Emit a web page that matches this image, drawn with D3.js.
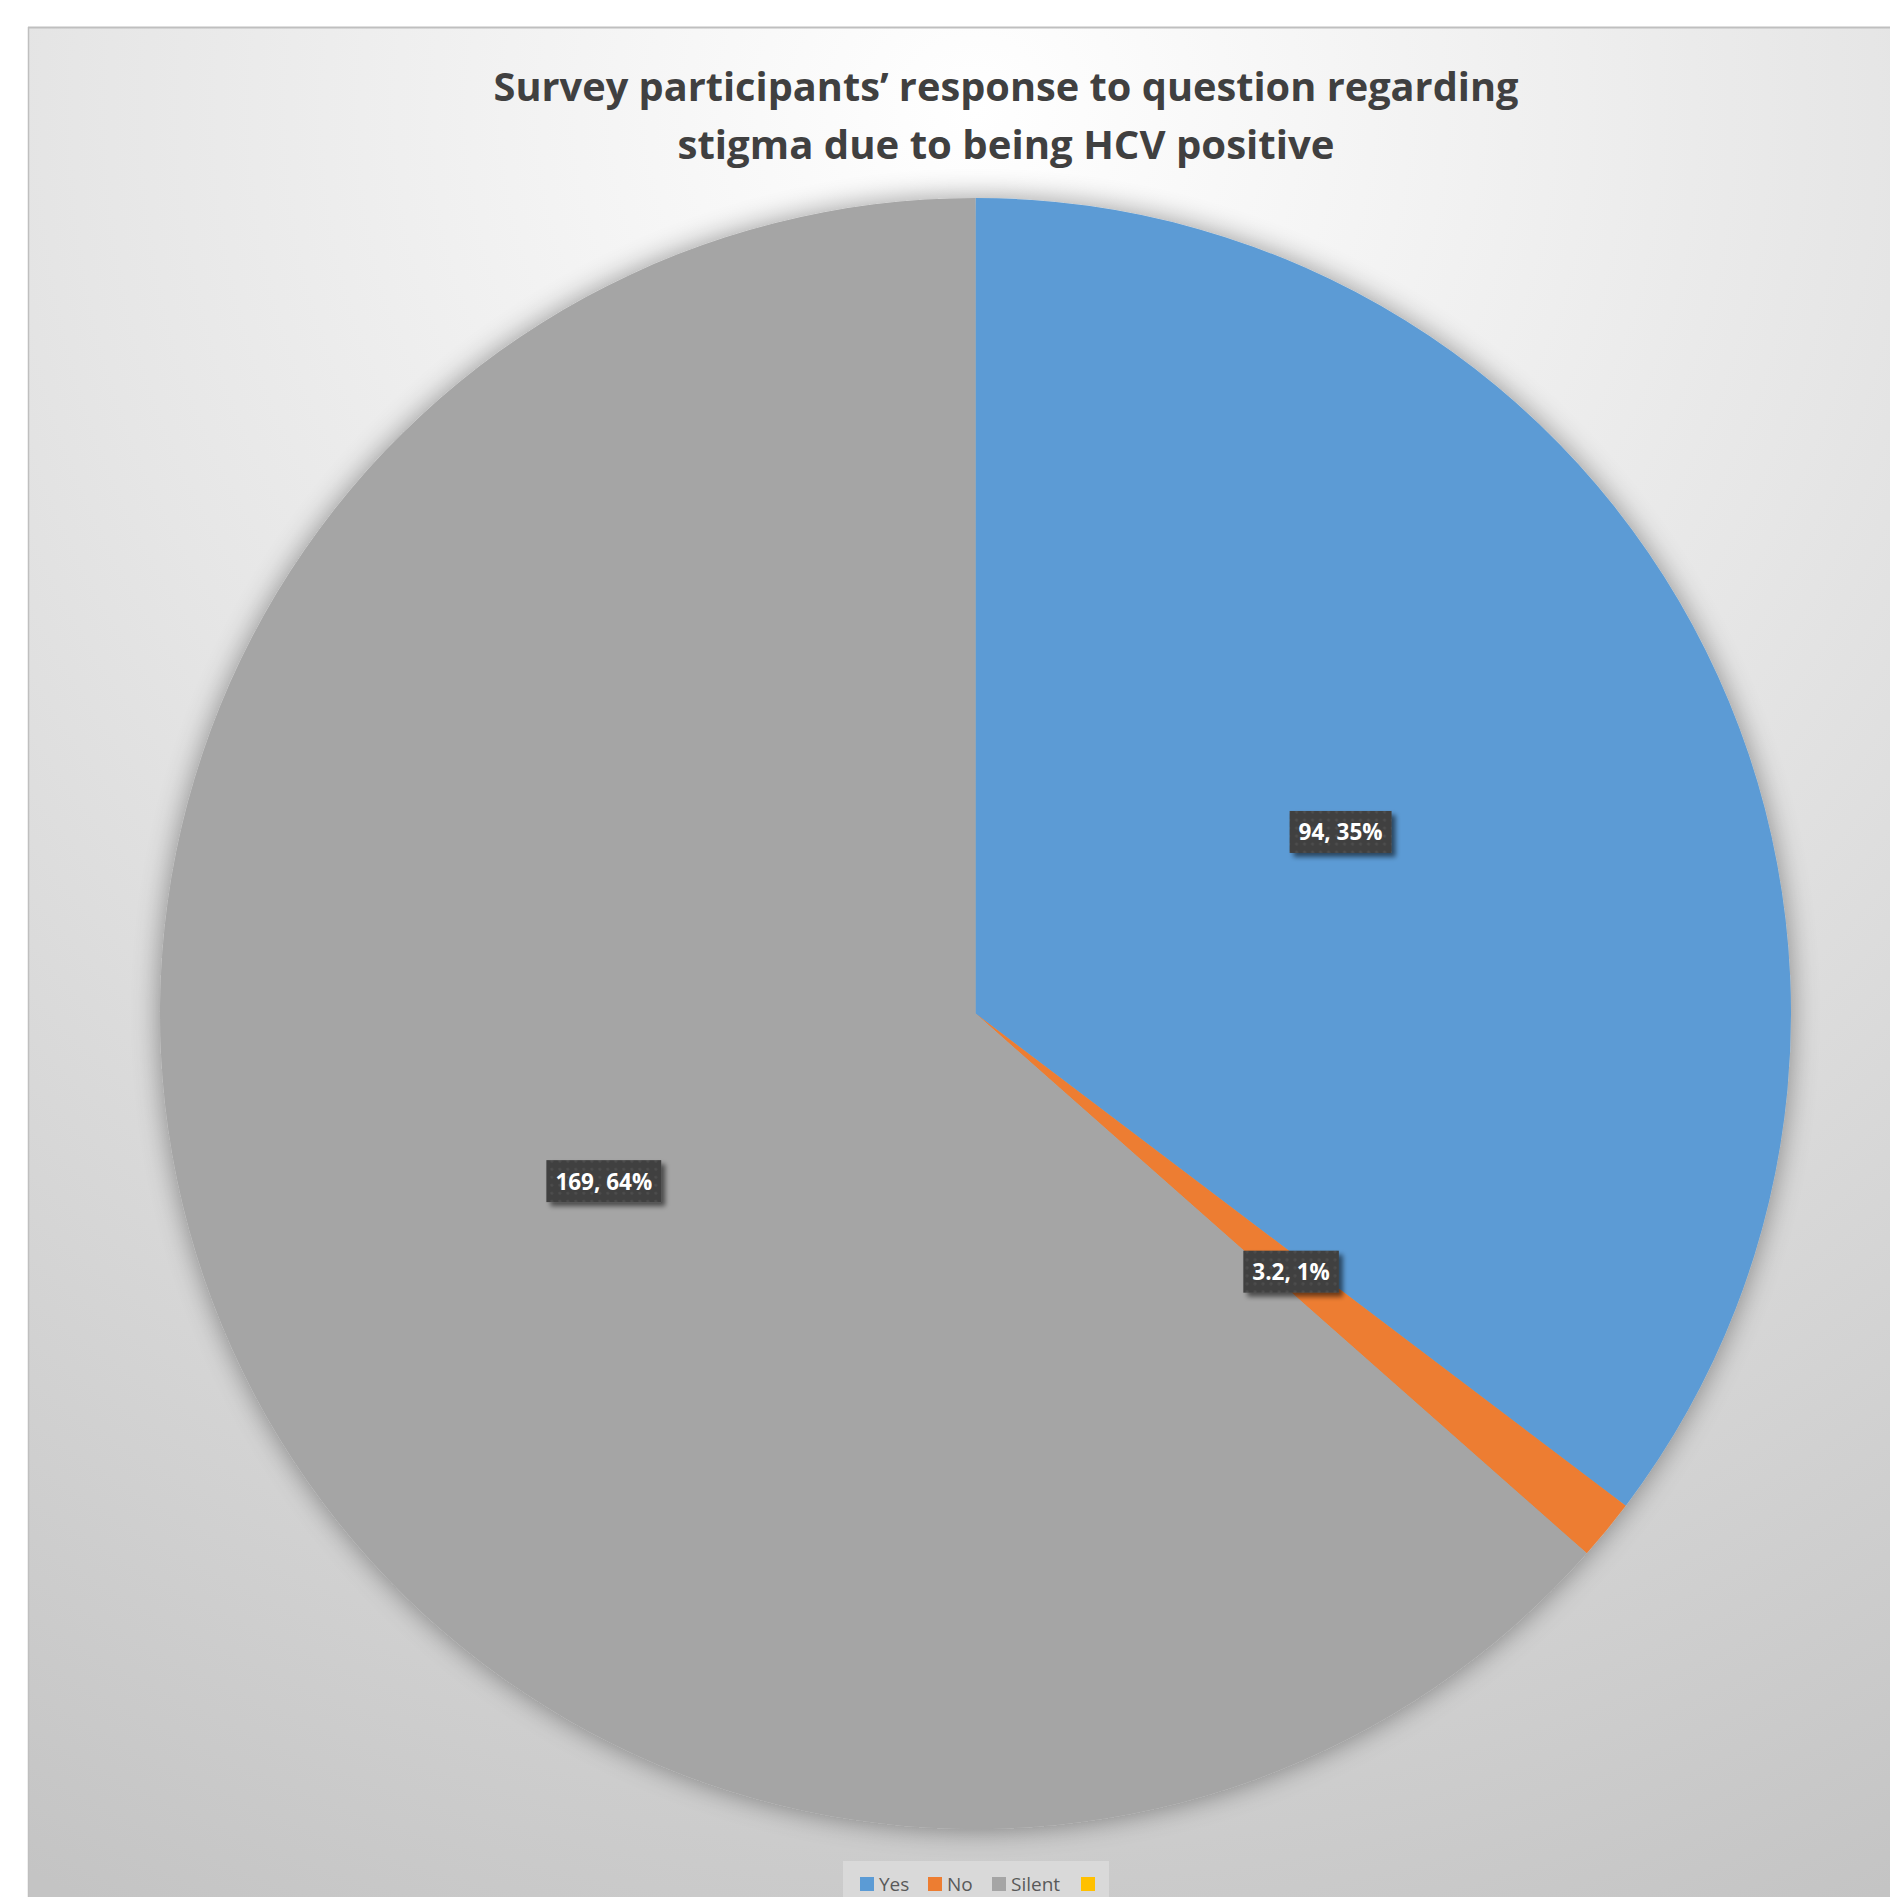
<!DOCTYPE html>
<html>
<head>
<meta charset="utf-8">
<script src="https://cdn.jsdelivr.net/npm/d3@7/dist/d3.min.js"></script>
<style>
  html, body { margin: 0; padding: 0; background: #ffffff; }
  svg { display: block; }
</style>
</head>
<body>
<div id="chart"></div>
<script>
// ---- data ----
const categories = ["Yes", "No", "Silent", ""];
const values = [94, 3.2, 169, 0];
const percentLabels = ["35%", "1%", "64%", ""];
const colors = ["#5B9BD5", "#ED7D31", "#A5A5A5", "#FFC000"];
const titleLines = ["Survey participants\u2019 response to question regarding",
                    "stigma due to being HCV positive"];

const W = 1890, H = 1897;
const svg = d3.select("#chart").append("svg").attr("width", W).attr("height", H);
const defs = svg.append("defs");

// background gradient
const bg = defs.append("radialGradient").attr("id", "bgGrad")
  .attr("gradientUnits", "userSpaceOnUse")
  .attr("cx", 975).attr("cy", 110).attr("r", 2000);
bg.append("stop").attr("offset", 0).attr("stop-color", "#ffffff");
bg.append("stop").attr("offset", 0.45).attr("stop-color", "#e6e6e6");
bg.append("stop").attr("offset", 1).attr("stop-color", "#c4c4c4");

// pie shadow filter
const pf = defs.append("filter").attr("id", "pieShadow")
  .attr("x", "-10%").attr("y", "-10%").attr("width", "120%").attr("height", "120%");
pf.append("feGaussianBlur").attr("in", "SourceAlpha").attr("stdDeviation", 14).attr("result", "b");
pf.append("feComponentTransfer").attr("in", "b").attr("result", "b2")
  .append("feFuncA").attr("type", "linear").attr("slope", 0.4);
const pm = pf.append("feMerge");
pm.append("feMergeNode").attr("in", "b2");
pm.append("feMergeNode").attr("in", "SourceGraphic");

// label shadow filter
const lf = defs.append("filter").attr("id", "lblShadow")
  .attr("x", "-20%").attr("y", "-30%").attr("width", "150%").attr("height", "180%");
lf.append("feGaussianBlur").attr("in", "SourceAlpha").attr("stdDeviation", 2.5).attr("result", "b");
lf.append("feOffset").attr("in", "b").attr("dx", 4).attr("dy", 4).attr("result", "o");
lf.append("feComponentTransfer").attr("in", "o").attr("result", "o2")
  .append("feFuncA").attr("type", "linear").attr("slope", 0.55);
const lm = lf.append("feMerge");
lm.append("feMergeNode").attr("in", "o2");
lm.append("feMergeNode").attr("in", "SourceGraphic");

// dotted pattern for label boxes
const pat = defs.append("pattern").attr("id", "dots")
  .attr("patternUnits", "userSpaceOnUse").attr("width", 8).attr("height", 8);
pat.append("rect").attr("width", 8).attr("height", 8).attr("fill", "#404040");
pat.append("circle").attr("cx", 4).attr("cy", 4).attr("r", 1.6).attr("fill", "#4d4d4d");

// chart area
svg.append("rect").attr("x", 28).attr("y", 27).attr("width", W).attr("height", H)
  .attr("fill", "url(#bgGrad)");
svg.append("line").attr("x1", 28).attr("x2", W).attr("y1", 27.5).attr("y2", 27.5)
  .attr("stroke", "#bfbfbf").attr("stroke-width", 2);
svg.append("line").attr("x1", 28.5).attr("x2", 28.5).attr("y1", 27).attr("y2", H)
  .attr("stroke", "#bfbfbf").attr("stroke-width", 1.5);

// title
const titleWidths = [1025, 657];
const titleY = [101, 159];
svg.append("g").selectAll("text").data(titleLines).join("text")
  .attr("x", 1006).attr("y", (d, i) => titleY[i])
  .attr("text-anchor", "middle")
  .attr("font-family", "'Open Sans', 'Noto Sans', sans-serif")
  .attr("font-weight", 700).attr("font-size", 39)
  .attr("fill", "#404040")
  .attr("textLength", (d, i) => titleWidths[i])
  .attr("lengthAdjust", "spacingAndGlyphs")
  .text(d => d);

// pie
const cx = 975.5, cy = 1013.5, R = 815.5;
const data = categories.map((c, i) => ({ cat: c, value: values[i], pct: percentLabels[i], color: colors[i] }));
const pie = d3.pie().value(d => d.value).sort(null);
const arcs = pie(data);
const arc = d3.arc().innerRadius(0).outerRadius(R);

const g = svg.append("g").attr("transform", `translate(${cx},${cy})`);
g.append("g").attr("filter", "url(#pieShadow)")
  .selectAll("path").data(arcs.filter(a => a.data.value > 0)).join("path")
  .attr("d", arc).attr("fill", d => d.data.color);

// data labels
const labelG = g.selectAll("g.lbl").data(arcs.filter(a => a.data.value > 0)).join("g")
  .attr("class", "lbl")
  .attr("transform", d => { const [x, y] = arc.centroid(d); return `translate(${x},${y})`; });
labelG.each(function(d) {
  const sel = d3.select(this);
  const txt = sel.append("text")
    .attr("text-anchor", "middle").attr("dy", 8.5)
    .attr("font-family", "'Open Sans', 'Noto Sans', sans-serif")
    .attr("font-weight", 700).attr("font-size", 22.5)
    .attr("fill", "#ffffff")
    .text(`${d.data.value}, ${d.data.pct}`);
  const bb = txt.node().getBBox();
  const w = bb.width + 18, h = 42;
  sel.insert("rect", "text")
    .attr("x", -w / 2).attr("y", -h / 2).attr("width", w).attr("height", h)
    .attr("fill", "url(#dots)").attr("filter", "url(#lblShadow)");
});

// legend
const legX = 843, legY = 1861;
svg.append("rect").attr("x", legX).attr("y", legY).attr("width", 266).attr("height", 60)
  .attr("fill", "#d9d9d9");
const legItemX = [860, 928, 992, 1081];
const leg = svg.append("g").selectAll("g").data(data).join("g")
  .attr("transform", (d, i) => `translate(${legItemX[i]},${legY + 16})`);
leg.append("rect").attr("width", 14).attr("height", 14).attr("fill", d => d.color);
leg.append("text").attr("x", 19).attr("y", 14)
  .attr("font-family", "'Open Sans', 'Noto Sans', sans-serif")
  .attr("font-size", 19).attr("fill", "#595959")
  .text(d => d.cat);
</script>
</body>
</html>
